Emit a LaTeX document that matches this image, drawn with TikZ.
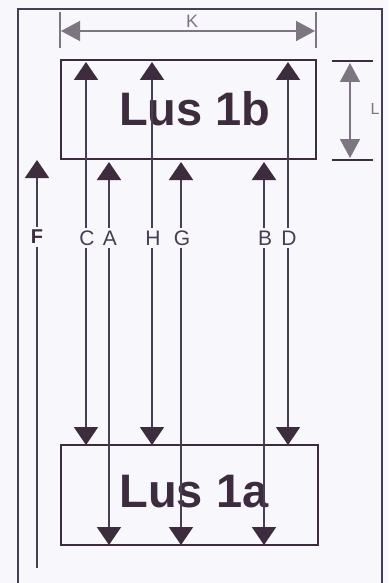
\documentclass[tikz,border=0pt]{standalone}
\usepackage{fontspec}
\setmainfont{Liberation Sans}
\usetikzlibrary{arrows.meta}
\definecolor{bg}{RGB}{248,247,252}
\definecolor{ink}{RGB}{60,44,62}
\definecolor{lineink}{RGB}{72,62,84}
\definecolor{dimgray}{RGB}{125,118,130}
\begin{document}
\begin{tikzpicture}[x=1pt,y=-1pt,
  box/.style={draw=ink,line width=2pt,minimum width=#1,minimum height=100pt,inner sep=0pt},
  bigtext/.style={font=\bfseries\fontsize{47}{47}\selectfont,text=ink,inner sep=0pt},
  darrow/.style={line width=2pt,draw=lineink,
    {Triangle[width=24pt,length=18pt,color=ink]}-{Triangle[width=24pt,length=18pt,color=ink]}},
  uparrow/.style={line width=2pt,draw=lineink,{Triangle[width=24pt,length=18pt,color=ink]}-},
  lbl/.style={font=\fontsize{21}{21}\selectfont,text=lineink,fill=bg,inner xsep=1pt,inner ysep=3pt},
  dimline/.style={line width=1.5pt,draw=dimgray},
  dimarrow/.style={line width=1.5pt,draw=dimgray,
    {Triangle[width=20pt,length=19pt,color=dimgray]}-{Triangle[width=20pt,length=19pt,color=dimgray]}},
  dimlbl/.style={font=\fontsize{18}{18}\selectfont,text=dimgray,fill=bg,inner sep=1pt}]
\useasboundingbox (0,0) rectangle (388,583);
\fill[bg] (0,0) rectangle (388,583);
% outer frame
\draw[lineink,line width=2pt] (18,590) -- (18,9) -- (382,9) -- (382,590);
% boxes
\node[box=255pt,minimum height=99pt] (b1) at (188.5,109.5) {};
\node[box=257pt] (a1) at (189.5,495) {};
\node[bigtext] (t1) at (195,109) {Lus 1b};
\node[bigtext] (t2) at (194,492) {Lus 1a};
% K dimension
\coordinate (k1a) at (60,12); \coordinate (k1b) at (60,48);
\coordinate (k2a) at (316,12); \coordinate (k2b) at (316,48);
\draw[dimline] (k1a) -- (k1b);
\draw[dimline] (k2a) -- (k2b);
\coordinate (kl) at (61,31); \coordinate (kr) at (315,31);
\draw[dimarrow] (kl) -- (kr);
\node[dimlbl] (K) at (192,21) {K};
% L dimension
\coordinate (l1a) at (332,61); \coordinate (l1b) at (373,61);
\coordinate (l2a) at (332,160); \coordinate (l2b) at (373,160);
\draw[line width=1.5pt,draw=ink] (l1a) -- (l1b);
\draw[line width=1.5pt,draw=ink] (l2a) -- (l2b);
\coordinate (lt) at (350,63); \coordinate (lb) at (350,158);
\draw[dimarrow] (lt) -- (lb);
\node[dimlbl,font=\fontsize{16}{16}\selectfont,fill=none] (L) at (375,109) {L};
% F arrow
\coordinate (ftop) at (37,160); \coordinate (fbot) at (37,568);
\draw[uparrow] (ftop) -- (fbot);
\node[lbl,text=ink,font=\bfseries\fontsize{20}{20}\selectfont] (F) at (37,237) {F};
% measurement arrows
\foreach \nm/\xx/\yt/\yb in {C/86/62/445, H/152/62/445, D/288/62/445,
                             A/109/162/545, G/181/162/545, B/264/162/545}{
  \coordinate (\nm t) at (\xx,\yt);
  \coordinate (\nm b) at (\xx,\yb);
  \draw[darrow] (\nm t) -- (\nm b);
  \node[lbl] (\nm) at (\xx+1,238) {\nm};
}
\end{tikzpicture}
\end{document}
